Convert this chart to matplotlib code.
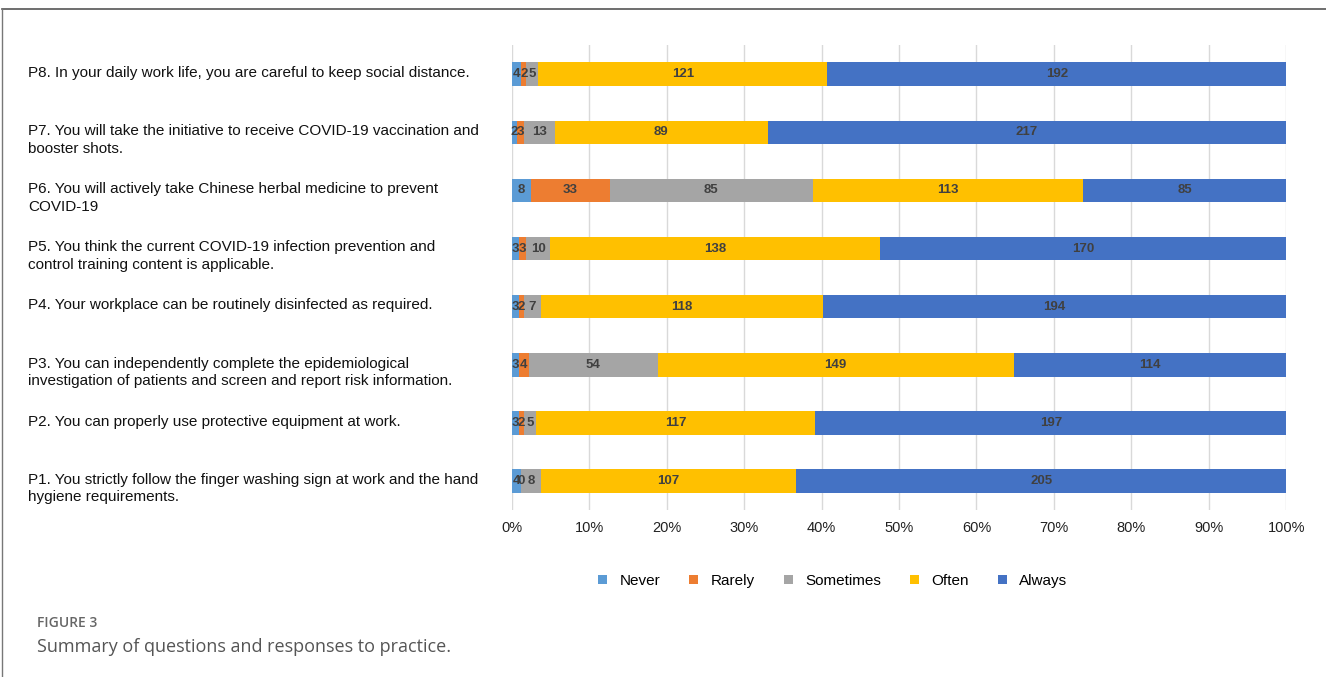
import numpy as np
import matplotlib.pyplot as plt
from matplotlib.lines import Line2D
import matplotlib.transforms as mtrans

plt.rcParams['font.family'] = ['Liberation Sans', 'DejaVu Sans']

# questions, bottom (P1) to top (P8)
questions = [
    "P1. You strictly follow the finger washing sign at work and the hand\nhygiene requirements.",
    "P2. You can properly use protective equipment at work.",
    "P3. You can independently complete the epidemiological\ninvestigation of patients and screen and report risk information.",
    "P4. Your workplace can be routinely disinfected as required.",
    "P5. You think the current COVID-19 infection prevention and\ncontrol training content is applicable.",
    "P6. You will actively take Chinese herbal medicine to prevent\nCOVID-19",
    "P7. You will take the initiative to receive COVID-19 vaccination and\nbooster shots.",
    "P8. In your daily work life, you are careful to keep social distance.",
]
responses = ["Never", "Rarely", "Sometimes", "Often", "Always"]
never = [4, 3, 3, 3, 3, 8, 2, 4]
rarely = [0, 2, 4, 2, 3, 33, 3, 2]
sometimes = [8, 5, 54, 7, 10, 85, 13, 5]
often = [107, 117, 149, 118, 138, 113, 89, 121]
always = [205, 197, 114, 194, 170, 85, 217, 192]
colors = ["#5B9BD5", "#ED7D31", "#A5A5A5", "#FFC000", "#4472C4"]

counts = np.array([never, rarely, sometimes, often, always], dtype=float)
totals = counts.sum(axis=0)
pct = counts / totals

fig = plt.figure(figsize=(13.26, 6.77), dpi=100)
ax = fig.add_axes([0.386, 0.247, 0.584, 0.686])

y = np.arange(len(questions))
left = np.zeros(len(questions))
for k, name in enumerate(responses):
    ax.barh(y, pct[k], left=left, height=0.41, color=colors[k], label=name, zorder=2)
    for i in range(len(questions)):
        ax.text(left[i] + pct[k][i] / 2, y[i], f"{int(counts[k][i])}",
                ha='center', va='center', fontsize=9.5, fontweight='bold',
                color='#404040', zorder=3)
    left += pct[k]

ax.set_xlim(0, 1)
ax.set_ylim(-0.5, len(questions) - 0.5)
ax.set_xticks(np.linspace(0, 1, 11))
ax.set_xticklabels([f"{int(v)}%" for v in np.linspace(0, 100, 11)], fontsize=10.5, color='#222222')
ax.set_yticks([])
ax.grid(axis='x', color='#D9D9D9', linewidth=1, zorder=0)
for s in ax.spines.values():
    s.set_visible(False)
ax.tick_params(axis='x', length=0, pad=8)

trans = mtrans.blended_transform_factory(fig.transFigure, ax.transData)
for i, q in enumerate(questions):
    ax.text(28 / 1326, y[i] + 0.14, q, transform=trans, ha='left', va='top',
            fontsize=11, color='#111111', linespacing=1.3)

fig.legend(loc='center', bbox_to_anchor=(0.628, 0.142), ncol=5, frameon=False,
           fontsize=11, handlelength=0.6, handleheight=0.6, columnspacing=1.9,
           handletextpad=0.8)

fig.text(37 / 1326, 1 - 623 / 677, "FIGURE 3", family=['Open Sans', 'DejaVu Sans'],
         fontsize=10, color='#666666', va='center', fontweight='semibold')
fig.text(37 / 1326, 1 - 647 / 677, "Summary of questions and responses to practice.",
         family=['Open Sans', 'DejaVu Sans'], fontsize=13, color='#555555', va='center')

# frame around the figure
fig.add_artist(Line2D([2 / 1326, 1], [1 - 9 / 677, 1 - 9 / 677], transform=fig.transFigure,
                      color='#555555', linewidth=1.2))
fig.add_artist(Line2D([2 / 1326, 2 / 1326], [0, 1 - 9 / 677], transform=fig.transFigure,
                      color='#777777', linewidth=1.0))

fig.savefig("out.png", dpi=100)
